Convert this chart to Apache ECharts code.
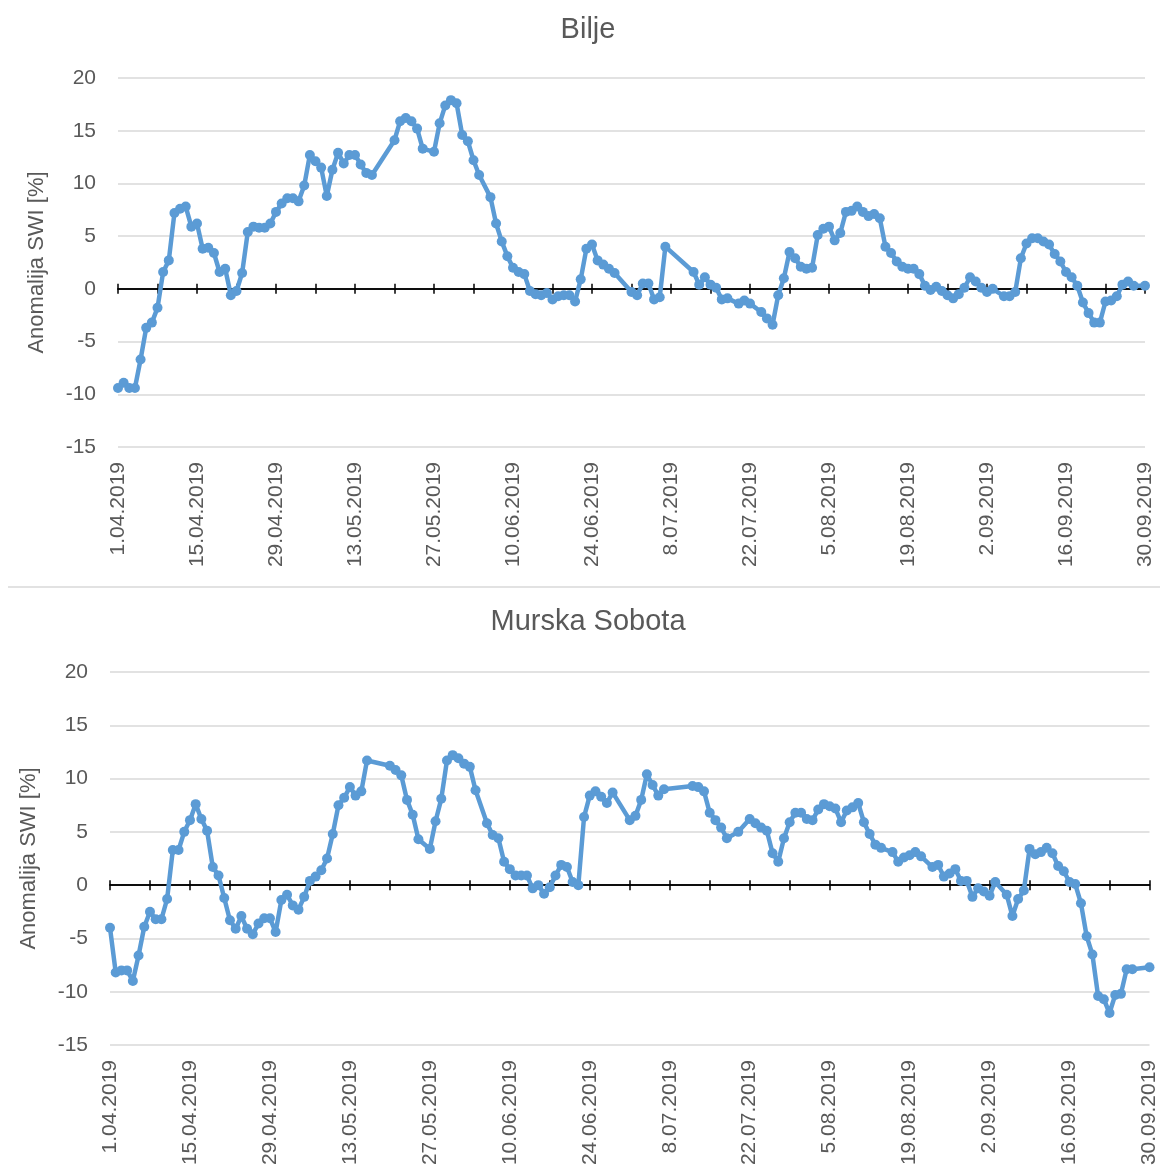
<!DOCTYPE html>
<html>
<head>
<meta charset="utf-8">
<script src="https://cdn.jsdelivr.net/npm/echarts@6/dist/echarts.min.js"></script>
<style>
  html, body { margin: 0; padding: 0; background: #ffffff; }
  #chart { width: 1160px; height: 1172px; }
</style>
</head>
<body>
<div id="chart"></div>
<script>
// Day offsets from 1.04.2019 and SWI anomaly values [%]
const tickLabels = ['1.04.2019','15.04.2019','29.04.2019','13.05.2019','27.05.2019','10.06.2019','24.06.2019','8.07.2019','22.07.2019','5.08.2019','19.08.2019','2.09.2019','16.09.2019','30.09.2019'];

const biljeDays = [0,1,2,3,4,5,6,7,8,9,10,11,12,13,14,15,16,17,18,19,20,21,22,23,24,25,26,27,28,29,30,31,32,33,34,35,36,37,38,39,40,41,42,43,44,45,49,50,51,52,53,54,56,57,58,59,60,61,62,63,64,66,67,68,69,70,71,72,73,74,75,76,77,78,79,80,81,82,83,84,85,86,87,88,91,92,93,94,95,96,97,102,103,104,105,106,107,108,110,111,112,114,115,116,117,118,119,120,121,122,123,124,125,126,127,128,129,130,131,132,133,134,135,136,137,138,139,140,141,142,143,144,145,146,147,148,149,150,151,152,153,154,155,157,158,159,160,161,162,163,164,165,166,167,168,169,170,171,172,173,174,175,176,177,178,179,180,182];
const biljeValues = [-9.4,-8.9,-9.4,-9.4,-6.7,-3.7,-3.2,-1.8,1.6,2.7,7.2,7.6,7.8,5.9,6.2,3.8,3.9,3.4,1.6,1.9,-0.6,-0.2,1.5,5.4,5.9,5.8,5.8,6.2,7.3,8.1,8.6,8.6,8.3,9.8,12.7,12.1,11.5,8.8,11.3,12.9,11.9,12.7,12.7,11.8,11.0,10.8,14.1,15.9,16.2,15.9,15.2,13.3,13.0,15.7,17.4,17.9,17.6,14.6,14.0,12.2,10.8,8.7,6.2,4.5,3.1,2.0,1.6,1.4,-0.2,-0.5,-0.6,-0.4,-1.0,-0.7,-0.6,-0.6,-1.2,0.9,3.8,4.2,2.7,2.3,1.9,1.5,-0.3,-0.6,0.5,0.5,-1.0,-0.8,4.0,1.6,0.4,1.1,0.4,0.1,-1.0,-0.9,-1.4,-1.1,-1.4,-2.2,-2.8,-3.4,-0.6,1.0,3.5,2.9,2.1,1.9,2.0,5.1,5.7,5.9,4.6,5.3,7.3,7.4,7.8,7.3,6.9,7.1,6.7,4.0,3.4,2.6,2.1,1.9,1.9,1.4,0.3,-0.1,0.2,-0.2,-0.6,-0.9,-0.5,0.1,1.1,0.7,0.1,-0.3,0.0,-0.7,-0.7,-0.3,2.9,4.3,4.8,4.8,4.5,4.2,3.3,2.6,1.6,1.1,0.3,-1.3,-2.3,-3.2,-3.2,-1.2,-1.1,-0.7,0.4,0.7,0.3,0.3];

const msDays = [0,1,2,3,4,5,6,7,8,9,10,11,12,13,14,15,16,17,18,19,20,21,22,23,24,25,26,27,28,29,30,31,32,33,34,35,36,37,38,39,40,41,42,43,44,45,49,50,51,52,53,54,56,57,58,59,60,61,62,63,64,66,67,68,69,70,71,72,73,74,75,76,77,78,79,80,81,82,83,84,85,86,87,88,91,92,93,94,95,96,97,102,103,104,105,106,107,108,110,112,113,114,115,116,117,118,119,120,121,122,123,124,125,126,127,128,129,130,131,132,133,134,135,137,138,139,140,141,142,144,145,146,147,148,149,150,151,152,153,154,155,157,158,159,160,161,162,163,164,165,166,167,168,169,170,171,172,173,174,175,176,177,178,179,182];
const msValues = [-4.0,-8.2,-8.0,-8.0,-9.0,-6.6,-3.9,-2.5,-3.2,-3.2,-1.3,3.3,3.3,5.0,6.1,7.6,6.2,5.1,1.7,0.9,-1.2,-3.3,-4.1,-2.9,-4.1,-4.6,-3.6,-3.1,-3.1,-4.4,-1.4,-0.9,-1.9,-2.3,-1.1,0.4,0.8,1.4,2.5,4.8,7.5,8.2,9.2,8.4,8.8,11.7,11.2,10.8,10.3,8.0,6.6,4.3,3.4,6.0,8.1,11.7,12.2,11.9,11.4,11.1,8.9,5.8,4.7,4.4,2.2,1.5,0.9,0.9,0.9,-0.3,0.0,-0.8,-0.2,0.9,1.9,1.7,0.3,0.0,6.4,8.4,8.8,8.3,7.7,8.7,6.1,6.5,8.0,10.4,9.4,8.4,9.0,9.3,9.2,8.8,6.8,6.1,5.4,4.4,5.0,6.2,5.8,5.4,5.1,3.0,2.2,4.4,5.9,6.8,6.8,6.2,6.1,7.1,7.6,7.4,7.2,5.9,7.0,7.3,7.7,5.9,4.8,3.8,3.5,3.1,2.2,2.6,2.8,3.1,2.7,1.7,1.9,0.8,1.1,1.5,0.4,0.4,-1.1,-0.3,-0.6,-1.0,0.3,-0.9,-2.9,-1.3,-0.5,3.4,2.9,3.1,3.5,3.0,1.8,1.3,0.3,0.1,-1.7,-4.8,-6.5,-10.4,-10.7,-12.0,-10.3,-10.2,-7.9,-7.9,-7.7];

const yTicks = { min: -15, max: 20, interval: 5 };

const chart = echarts.init(document.getElementById('chart'), null, { renderer: 'canvas' });

const textColor = '#595959';
const font = 'Liberation Sans, Arial, sans-serif';
const blue = '#5B9BD5';

const grids = [
  { left: 118, top: 78, width: 1027, height: 369 },
  { left: 110, top: 672, width: 1042, height: 373 }
];

function labelAxis(g) {
  return {
    type: 'value', gridIndex: g, position: 'bottom', min: 0, max: 182, interval: 14,
    axisLine: { show: false, onZero: false }, axisTick: { show: false }, splitLine: { show: false },
    axisLabel: {
      rotate: 90, margin: 15, fontSize: 21, color: textColor, fontFamily: font,
      showMinLabel: true, showMaxLabel: true,
      formatter: v => tickLabels[Math.round(v / 14)] || ''
    }
  };
}
function tickAxis(g, pos) {
  return {
    type: 'value', gridIndex: g, position: pos, min: 0, max: 182, interval: 7,
    axisLine: { show: true, onZero: true, onZeroAxisIndex: g, lineStyle: { color: '#000', width: 1.5 } },
    axisTick: { show: true, length: 5, lineStyle: { color: '#000', width: 1.5 } },
    axisLabel: { show: false }, splitLine: { show: false }
  };
}
function yAxis(g) {
  return {
    type: 'value', gridIndex: g, min: yTicks.min, max: yTicks.max, interval: yTicks.interval,
    axisLine: { show: false }, axisTick: { show: false },
    splitLine: { show: true, lineStyle: { color: '#d9d9d9', width: 1.5 } },
    axisLabel: { fontSize: 21, color: textColor, fontFamily: font, margin: 22 },
    name: 'Anomalija SWI [%]', nameLocation: 'middle', nameGap: 70,
    nameTextStyle: { fontSize: 22, color: textColor, fontFamily: font }
  };
}
function lineSeries(days, vals, xi, yi) {
  return {
    type: 'line', xAxisIndex: xi, yAxisIndex: yi,
    data: days.map((d, i) => [d, vals[i]]),
    symbol: 'circle', symbolSize: 10, showAllSymbol: true,
    lineStyle: { color: blue, width: 4.5, join: 'round', cap: 'round' },
    itemStyle: { color: blue },
    z: 5, animation: false
  };
}

chart.setOption({
  animation: false,
  grid: grids,
  xAxis: [labelAxis(0), tickAxis(0, 'bottom'), tickAxis(0, 'top'),
          labelAxis(1), tickAxis(1, 'bottom'), tickAxis(1, 'top')],
  yAxis: [yAxis(0), yAxis(1)],
  series: [lineSeries(biljeDays, biljeValues, 0, 0), lineSeries(msDays, msValues, 3, 1)],
  graphic: [
    { type: 'text', x: 588, y: 30, style: { text: 'Bilje', fontSize: 29, fill: textColor, fontFamily: font, textAlign: 'center', textVerticalAlign: 'middle' } },
    { type: 'text', x: 588, y: 622, style: { text: 'Murska Sobota', fontSize: 29, fill: textColor, fontFamily: font, textAlign: 'center', textVerticalAlign: 'middle' } },
    { type: 'line', shape: { x1: 8, y1: 587, x2: 1160, y2: 587 }, style: { stroke: '#d9d9d9', lineWidth: 1.5 } }
  ]
});
</script>
</body>
</html>
